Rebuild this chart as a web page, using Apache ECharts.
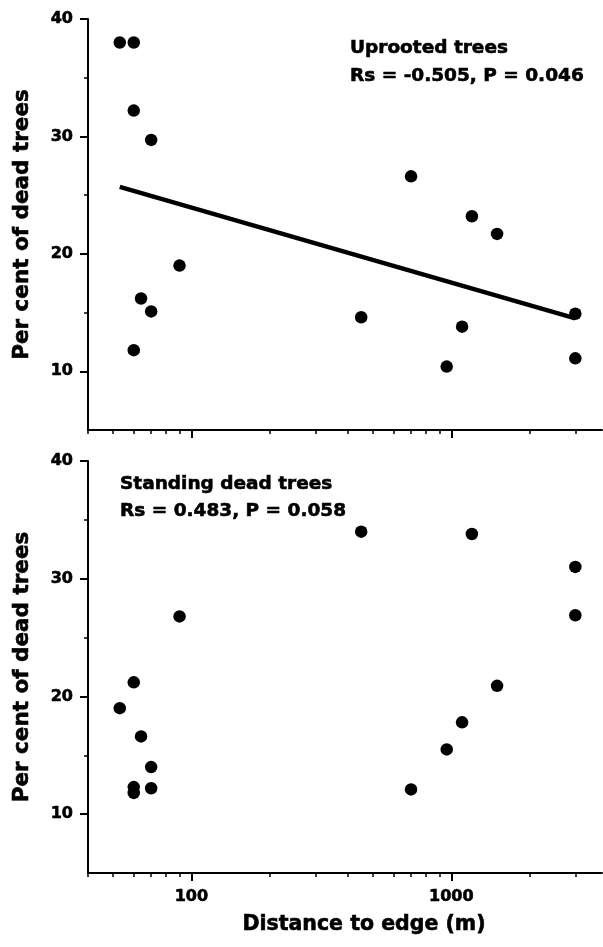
<!DOCTYPE html>
<html>
<head>
<meta charset="utf-8">
<script src="https://cdn.jsdelivr.net/npm/echarts@6/dist/echarts.min.js"></script>
<style>
  html, body { margin: 0; padding: 0; background: #fff; }
  #main { width: 603px; height: 947px; }
</style>
</head>
<body>
<div id="main"></div>
<script>
// distances (m) of the sites, same order for both panels
const distUprooted = [53, 60, 60, 60, 64, 70, 70, 90, 450, 700, 960, 1100, 1200, 1500, 3000, 3000]
const pctUprooted = [38.0, 38.0, 32.2, 11.8, 16.2, 29.7, 15.1, 19.0, 14.6, 26.6, 10.4, 13.8, 23.2, 21.7, 14.9, 11.1]

const distStanding = [53, 60, 60, 60, 64, 70, 70, 90, 450, 700, 960, 1100, 1200, 1500, 3000, 3000]
const pctStanding = [19.0, 21.2, 12.3, 11.8, 16.6, 14.0, 12.2, 26.8, 34.0, 12.1, 15.5, 17.8, 33.8, 20.9, 31.0, 26.9]

// fitted line (uprooted)
const trendX = [53, 3000]
const trendY = [25.7, 14.5]

// ticks
const xMajorTicks = [100, 1000]
const xMinorTicks = [40, 50, 60, 70, 80, 90, 200, 300, 400, 500, 600, 700, 800, 900, 2000, 3000]
const yMajorTicks = [10, 20, 30, 40]
const yMinorTicks = [15, 25, 35]

const FONT = '"DejaVu Sans", "Liberation Sans", Arial, sans-serif'
const BLACK = '#000'
const X_MIN = 40
const X_MAX = 3800

function pairs(xs, ys) {
  return xs.map((x, i) => [x, ys[i]])
}

// heavier type, like the scanned original
const heavy = { textBorderColor: BLACK, textBorderWidth: 0.6 }

function xMain(gridIndex, showLabels) {
  return {
    type: 'log',
    logBase: 10,
    gridIndex: gridIndex,
    min: X_MIN,
    max: X_MAX,
    name: showLabels ? 'Distance to edge (m)' : '',
    nameLocation: 'middle',
    nameGap: 41,
    nameTextStyle: Object.assign({
      fontFamily: FONT,
      fontWeight: 'bold',
      fontSize: 20.5,
      color: BLACK,
      padding: [0, 0, 0, 38] // title sits right of the grid centre in the original
    }, heavy),
    axisLine: { show: true, lineStyle: { color: BLACK, width: 2 } },
    axisTick: { show: true, length: 8, customValues: xMajorTicks, lineStyle: { color: BLACK, width: 2 } },
    axisLabel: Object.assign({
      show: showLabels,
      customValues: xMajorTicks,
      formatter: v => String(v),
      margin: 16,
      fontFamily: FONT,
      fontWeight: 'bold',
      fontSize: 16,
      color: BLACK
    }, heavy),
    splitLine: { show: false }
  }
}

function xMinor(gridIndex) {
  return {
    type: 'log',
    logBase: 10,
    gridIndex: gridIndex,
    position: 'bottom',
    min: X_MIN,
    max: X_MAX,
    axisLine: { show: false },
    axisTick: { show: true, length: 4, customValues: xMinorTicks, lineStyle: { color: BLACK, width: 1.5 } },
    axisLabel: { show: false },
    splitLine: { show: false }
  }
}

function yMain(gridIndex) {
  return {
    type: 'value',
    gridIndex: gridIndex,
    min: 5,
    max: 40,
    interval: 5,
    name: 'Per cent of dead trees',
    nameLocation: 'middle',
    nameRotate: 90,
    nameGap: 55,
    nameTextStyle: Object.assign({ fontFamily: FONT, fontWeight: 'bold', fontSize: 21.5, color: BLACK }, heavy),
    axisLine: { show: true, lineStyle: { color: BLACK, width: 2 } },
    axisTick: { show: true, length: 8, customValues: yMajorTicks, lineStyle: { color: BLACK, width: 2 } },
    axisLabel: Object.assign({
      customValues: yMajorTicks,
      margin: 15,
      fontFamily: FONT,
      fontWeight: 'bold',
      fontSize: 16,
      color: BLACK
    }, heavy),
    splitLine: { show: false }
  }
}

function yMinor(gridIndex) {
  return {
    type: 'value',
    gridIndex: gridIndex,
    position: 'left',
    min: 5,
    max: 40,
    interval: 5,
    axisLine: { show: false },
    axisTick: { show: true, length: 4, customValues: yMinorTicks, lineStyle: { color: BLACK, width: 1.5 } },
    axisLabel: { show: false },
    splitLine: { show: false }
  }
}

function noteText(x, y, text) {
  return {
    type: 'text',
    x: x,
    y: y,
    style: {
      text: text,
      fill: BLACK,
      stroke: BLACK,
      lineWidth: 0.6,
      font: 'bold 18.5px ' + FONT,
      verticalAlign: 'middle'
    }
  }
}

const chart = echarts.init(document.getElementById('main'))
chart.setOption({
  animation: false,
  backgroundColor: '#fff',
  grid: [
    { left: 88, top: 19, right: 1, height: 411 },
    { left: 88, top: 461, right: 1, height: 412 }
  ],
  xAxis: [xMain(0, false), xMinor(0), xMain(1, true), xMinor(1)],
  yAxis: [yMain(0), yMinor(0), yMain(1), yMinor(1)],
  graphic: [
    noteText(350, 48.5, 'Uprooted trees'),
    noteText(350, 76.5, 'Rs = -0.505, P = 0.046'),
    noteText(120, 484, 'Standing dead trees'),
    noteText(120, 511, 'Rs = 0.483, P = 0.058')
  ],
  series: [
    {
      name: 'trend',
      type: 'line',
      xAxisIndex: 0,
      yAxisIndex: 0,
      data: pairs(trendX, trendY),
      symbol: 'none',
      lineStyle: { color: BLACK, width: 4.5 },
      z: 2
    },
    {
      name: 'Uprooted trees',
      type: 'scatter',
      xAxisIndex: 0,
      yAxisIndex: 0,
      data: pairs(distUprooted, pctUprooted),
      symbol: 'circle',
      symbolSize: 12.5,
      itemStyle: { color: BLACK, opacity: 1 },
      z: 3
    },
    {
      name: 'Standing dead trees',
      type: 'scatter',
      xAxisIndex: 2,
      yAxisIndex: 2,
      data: pairs(distStanding, pctStanding),
      symbol: 'circle',
      symbolSize: 12.5,
      itemStyle: { color: BLACK, opacity: 1 },
      z: 3
    }
  ]
})
</script>
</body>
</html>
